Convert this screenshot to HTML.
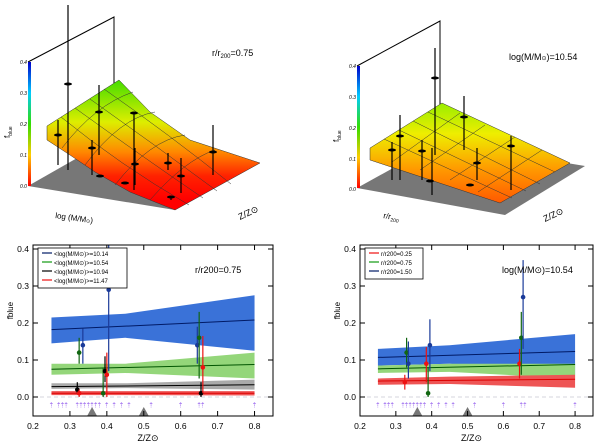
<!DOCTYPE html>
<html><head><meta charset="utf-8">
<style>
body{margin:0;background:#fff;}
svg{display:block;font-family:"Liberation Sans","DejaVu Sans",sans-serif;}
</style></head>
<body>
<svg id="fig" width="600" height="444" viewBox="0 0 600 444" xmlns="http://www.w3.org/2000/svg">
<defs>
<linearGradient id="cbar" x1="0" y1="1" x2="0" y2="0">
<stop offset="0" stop-color="#ff0000"/><stop offset="0.25" stop-color="#ffcc00"/><stop offset="0.5" stop-color="#33dd00"/><stop offset="0.75" stop-color="#00ccff"/><stop offset="1" stop-color="#0000cc"/>
</linearGradient>
<linearGradient id="surfL" x1="0" y1="80" x2="0" y2="200" gradientUnits="userSpaceOnUse">
<stop offset="0" stop-color="#44dd00"/><stop offset="0.35" stop-color="#ddee00"/><stop offset="0.6" stop-color="#ff8800"/><stop offset="0.8" stop-color="#ff2200"/><stop offset="1" stop-color="#ff0000"/>
</linearGradient>
<linearGradient id="surfR" x1="0" y1="103" x2="0" y2="205" gradientUnits="userSpaceOnUse">
<stop offset="0" stop-color="#99ee00"/><stop offset="0.3" stop-color="#eeee00"/><stop offset="0.65" stop-color="#ff9900"/><stop offset="1" stop-color="#ff5500"/>
</linearGradient>
</defs>

<g>
<polygon points="28,186 114,137 260,163 175,210" fill="#777"/>
<polyline points="28,62 114,17 114,140" fill="none" stroke="#000" stroke-width="1"/>
<polygon points="47,126 119,80 150,112 190,140 260,163 175,210 130,192 95,172 70,155 47,140" fill="url(#surfL)" stroke="#333" stroke-width="0.5"/>
<g stroke="#333" stroke-width="0.5" fill="none">
<path d="M61,117 Q120,165 189,205"/><path d="M75,108 Q140,155 203,198"/><path d="M90,99 Q155,145 217,191"/><path d="M104,89 Q170,135 231,184"/><path d="M62,148 Q95,105 133,92"/><path d="M85,165 Q120,118 155,112"/><path d="M115,185 Q150,140 185,135"/><path d="M150,200 Q185,160 215,150"/>
</g>
<rect x="28" y="62" width="3" height="124" fill="url(#cbar)"/>
<g font-size="5" font-style="italic" fill="#000">
<text x="20" y="64">0.4</text><text x="20" y="95">0.3</text><text x="20" y="126">0.2</text><text x="20" y="157">0.1</text><text x="20" y="188">0.0</text>
</g>
<text x="10" y="138" font-size="8" transform="rotate(-90 10 138)">f<tspan font-size="5" dy="2">blue</tspan></text>
<text x="212" y="56" font-size="9">r/r<tspan font-size="6" dy="2">200</tspan><tspan dy="-2">=0.75</tspan></text>
<text x="55" y="218" font-size="8" transform="rotate(8 55 218)">log (M/M<tspan font-size="5">⊙</tspan>)</text>
<text x="240" y="220" font-size="9" transform="rotate(-25 240 220)">Z/Z⊙</text>
<g stroke="#000" stroke-width="1.2" fill="none">
<line x1="68" y1="5" x2="68" y2="170"/><line x1="58" y1="120" x2="58" y2="165"/><line x1="92" y1="140" x2="92" y2="175"/><line x1="99" y1="85" x2="99" y2="155"/><line x1="134" y1="112" x2="134" y2="190"/><line x1="135" y1="148" x2="135" y2="185"/><line x1="213" y1="125" x2="213" y2="175"/><line x1="168" y1="153" x2="168" y2="170"/><line x1="181" y1="158" x2="181" y2="193"/><line x1="171" y1="196" x2="171" y2="200"/>
</g>
<g fill="#000">
<ellipse cx="68" cy="84" rx="4" ry="1.5"/><ellipse cx="58" cy="135" rx="4" ry="1.5"/><ellipse cx="99" cy="112" rx="4" ry="1.5"/><ellipse cx="92" cy="148" rx="4" ry="1.5"/><ellipse cx="134" cy="113" rx="4" ry="1.5"/><ellipse cx="135" cy="164" rx="4" ry="1.5"/><ellipse cx="100" cy="176" rx="4" ry="1.5"/><ellipse cx="125" cy="183" rx="4" ry="1.5"/><ellipse cx="168" cy="163" rx="4" ry="1.5"/><ellipse cx="213" cy="152" rx="4" ry="1.5"/><ellipse cx="181" cy="176" rx="4" ry="1.5"/><ellipse cx="171" cy="197" rx="4" ry="1.5"/>
</g>
</g>

<g>
<polygon points="357,188 440,142 585,166 505,215" fill="#777"/>
<polyline points="357,66 440,21 440,143" fill="none" stroke="#000" stroke-width="1"/>
<polygon points="370,148 442,103 570,163 500,203 370,160" fill="url(#surfR)" stroke="#333" stroke-width="0.5"/>
<g stroke="#333" stroke-width="0.5" fill="none">
<line x1="384" y1="139" x2="512" y2="198"/><line x1="399" y1="130" x2="526" y2="191"/><line x1="413" y1="121" x2="540" y2="184"/><line x1="428" y1="112" x2="555" y2="172"/>
<line x1="392" y1="162" x2="460" y2="113"/><line x1="420" y1="170" x2="485" y2="125"/><line x1="450" y1="180" x2="515" y2="137"/><line x1="478" y1="192" x2="542" y2="150"/>
</g>
<rect x="357" y="66" width="3" height="122" fill="url(#cbar)"/>
<g font-size="5" font-style="italic" fill="#000">
<text x="349" y="68">0.4</text><text x="349" y="99">0.3</text><text x="349" y="130">0.2</text><text x="349" y="161">0.1</text><text x="349" y="191">0.0</text>
</g>
<text x="339" y="142" font-size="8" transform="rotate(-90 339 142)">f<tspan font-size="5" dy="2">blue</tspan></text>
<text x="509" y="60" font-size="9">log(M/M<tspan font-size="6">⊙</tspan>)=10.54</text>
<text x="383" y="218" font-size="8" transform="rotate(10 383 218)">r/r<tspan font-size="5" dy="2">200</tspan></text>
<text x="545" y="222" font-size="9" transform="rotate(-25 545 222)">Z/Z⊙</text>
<g stroke="#000" stroke-width="1.2">
<line x1="435" y1="48" x2="435" y2="155"/><line x1="464" y1="96" x2="464" y2="150"/><line x1="400" y1="115" x2="400" y2="180"/><line x1="392" y1="142" x2="392" y2="180"/><line x1="422" y1="140" x2="422" y2="180"/><line x1="477" y1="148" x2="477" y2="180"/><line x1="511" y1="136" x2="511" y2="190"/><line x1="432" y1="148" x2="432" y2="195"/>
</g>
<g fill="#000">
<ellipse cx="435" cy="78" rx="4" ry="1.5"/><ellipse cx="464" cy="117" rx="4" ry="1.5"/><ellipse cx="400" cy="136" rx="4" ry="1.5"/><ellipse cx="392" cy="150" rx="4" ry="1.5"/><ellipse cx="422" cy="151" rx="4" ry="1.5"/><ellipse cx="477" cy="163" rx="4" ry="1.5"/><ellipse cx="511" cy="146" rx="4" ry="1.5"/><ellipse cx="430" cy="181" rx="4" ry="1.5"/><ellipse cx="470" cy="185" rx="4" ry="1.5"/>
</g>
</g>

<g id="bl"></g>
<g id="br"></g>
</svg>

<script>
const yTicks = [0.0, 0.1, 0.2, 0.3, 0.4];
const xTicks = [0.2, 0.3, 0.4, 0.5, 0.6, 0.7, 0.8];
const arrowZ = [0.25,0.27,0.28,0.29,0.32,0.33,0.34,0.35,0.36,0.37,0.38,0.40,0.42,0.44,0.46,0.52,0.60,0.65,0.66,0.80];
const triZ = [0.36, 0.50];
const bandZ = [0.25, 0.45, 0.8];
const blueLoL = [0.145, 0.16, 0.125], blueHiL = [0.215, 0.225, 0.275], blueLineL = [0.182, 0.208];
const greenLoL = [0.06, 0.065, 0.05], greenHiL = [0.09, 0.09, 0.12], greenLineL = [0.075, 0.088];
const grayLoL = [0.022, 0.024, 0.02], grayHiL = [0.037, 0.037, 0.047], grayLineL = [0.028, 0.033];
const redLoL = [0.005, 0.005, 0.004], redHiL = [0.016, 0.016, 0.016], redLineL = [0.010, 0.010];
const ptZL = [[0.335,0.405,0.645],[0.325,0.39,0.65],[0.32,0.395,0.655],[0.325,0.40,0.66]];
const ptVL = [[0.14,0.29,0.14],[0.12,0.01,0.16],[0.02,0.07,0.01],[0.01,0.06,0.08]];
const ptLoL = [[0.09,0.07,0.09],[0.09,0.0,0.05],[0.01,0.04,0.0],[0.0,0.0,0.01]];
const ptHiL = [[0.185,0.41,0.19],[0.16,0.08,0.23],[0.04,0.11,0.04],[0.02,0.12,0.165]];
const blueLoR = [0.085, 0.09, 0.06], blueHiR = [0.13, 0.14, 0.17], blueLineR = [0.107, 0.123];
const greenLoR = [0.065, 0.068, 0.05], greenHiR = [0.085, 0.09, 0.09], greenLineR = [0.076, 0.088];
const redLoR = [0.033, 0.035, 0.025], redHiR = [0.05, 0.055, 0.06], redLineR = [0.043, 0.048];
const ptZR = [[0.325,0.385,0.645],[0.33,0.39,0.65],[0.335,0.395,0.655]];
const ptVR = [[0.04,0.09,0.09],[0.12,0.01,0.16],[0.09,0.14,0.27]];
const ptLoR = [[0.02,0.04,0.05],[0.08,0.0,0.06],[0.05,0.07,0.13]];
const ptHiR = [[0.06,0.135,0.13],[0.16,0.08,0.23],[0.15,0.21,0.37]];

const NS = 'http://www.w3.org/2000/svg';
function mk(parent, tag, attrs){const e=document.createElementNS(NS,tag);for(const k in attrs)e.setAttribute(k,attrs[k]);parent.appendChild(e);return e;}

function panel(g, x0, x1, bands, lines, pts, legend, label){
  const yT=245, yB=416;
  const X = z => x0 + (z-0.2)/(0.85-0.2)*(x1-x0);
  const Y = v => 397 - v*370;
  const zl = mk(g,'line',{x1:x0,x2:x1,y1:Y(0),y2:Y(0),stroke:'#aab','stroke-width':0.6,'stroke-dasharray':'4,3'});
  
  
  bands.forEach(b=>{
    let d='M'+bandZ.map((z,i)=>X(z)+','+Y(b.hi[i])).join(' L')+' L'+bandZ.slice().reverse().map((z,i)=>X(z)+','+Y(b.lo[2-i])).join(' L')+'Z';
    const p=mk(g,'path',{d:d,fill:b.c});
    
    
  });
  lines.forEach(l=>{
    const ln=mk(g,'line',{x1:X(0.25),x2:X(0.8),y1:Y(l.v[0]),y2:Y(l.v[1]),stroke:l.c,'stroke-width':1});
    
    
  });
  pts.forEach(s=>{
    s.z.forEach((z,i)=>{
      const e=mk(g,'line',{x1:X(z),x2:X(z),y1:Y(Math.min(s.hi[i],0.41)),y2:Y(s.lo[i]),stroke:s.c,'stroke-width':1.2});
      
      
      const c=mk(g,'circle',{cx:X(z),cy:Y(s.v[i]),r:2.3,fill:s.c});
      
      
    });
  });
  arrowZ.forEach(z=>{
    const a=mk(g,'text',{x:X(z),y:Y(-0.028),'font-size':7,fill:'#9966ee','text-anchor':'middle'});
    a.textContent='⇡';
    
    
  });
  triZ.forEach(z=>{
    const t=mk(g,'polygon',{points:`${X(z)-5},${yB} ${X(z)+5},${yB} ${X(z)},${yB-9}`,fill:'#777'});
    
    
  });
  const f = mk(g,'rect',{x:x0,y:yT,width:x1-x0,height:yB-yT,fill:'none',stroke:'#000','stroke-width':1});
  
  
  yTicks.forEach(v=>{
    mk(g,'line',{x1:x0,x2:x0+5,y1:Y(v),y2:Y(v),stroke:'#000'});
    mk(g,'line',{x1:x1,x2:x1-5,y1:Y(v),y2:Y(v),stroke:'#000'});
    const t=mk(g,'text',{x:x0-4,y:Y(v)+3,'font-size':8.5,'text-anchor':'end'});
    t.textContent=v.toFixed(1);
    
    
  });
  xTicks.forEach(v=>{
    mk(g,'line',{x1:X(v),x2:X(v),y1:yB,y2:yB-5,stroke:'#000'});
    mk(g,'line',{x1:X(v),x2:X(v),y1:yT,y2:yT+5,stroke:'#000'});
    const t=mk(g,'text',{x:X(v),y:yB+13,'font-size':8.5,'text-anchor':'middle'});
    t.textContent=v.toFixed(1);
    
    
  });
  const xt=mk(g,'text',{x:(x0+x1)/2-5,y:yB+25,'font-size':9,'text-anchor':'middle'});
  xt.textContent='Z/Z⊙';
  
  
  const yt=mk(g,'text',{x:x0-20,y:Y(0.21),'font-size':8,transform:`rotate(-90 ${x0-20} ${Y(0.21)})`});
  yt.textContent='fblue';
  
  
  const pl=mk(g,'text',{x:label.x,y:Y(0.335),'font-size':9});
  pl.textContent=label.t;
  
  
  const lw=legend.w, lh=legend.items.length*9+4;
  const lb=mk(g,'rect',{x:x0+5,y:yT+3,width:lw,height:lh,fill:'#fff',stroke:'#000','stroke-width':0.8});
  
  
  legend.items.forEach((it,i)=>{
    const yy=yT+10+i*9;
    mk(g,'line',{x1:x0+9,x2:x0+19,y1:yy-2,y2:yy-2,stroke:it.c,'stroke-width':1.2});
    const t=mk(g,'text',{x:x0+21,y:yy+1,'font-size':6});
    t.textContent=it.t;
    
    
  });
}

panel(document.getElementById('bl'), 33, 273,
  [{lo:blueLoL,hi:blueHiL,c:'#3a72d8'},{lo:greenLoL,hi:greenHiL,c:'#94d67a'},{lo:grayLoL,hi:grayHiL,c:'#aaaaaa'},{lo:redLoL,hi:redHiL,c:'#ee5555'}],
  [{v:blueLineL,c:'#001a66'},{v:greenLineL,c:'#005500'},{v:grayLineL,c:'#000'},{v:redLineL,c:'#dd0000'}],
  [{z:ptZL[0],v:ptVL[0],lo:ptLoL[0],hi:ptHiL[0],c:'#1a3a99'},{z:ptZL[1],v:ptVL[1],lo:ptLoL[1],hi:ptHiL[1],c:'#116611'},{z:ptZL[2],v:ptVL[2],lo:ptLoL[2],hi:ptHiL[2],c:'#000'},{z:ptZL[3],v:ptVL[3],lo:ptLoL[3],hi:ptHiL[3],c:'#ee1111'}],
  {w:89,items:[{t:'<log(M/M⊙)>=10.14',c:'#001a66'},{t:'<log(M/M⊙)>=10.54',c:'#119911'},{t:'<log(M/M⊙)>=10.94',c:'#000'},{t:'<log(M/M⊙)>=11.47',c:'#ee1111'}]},
  {x:195,t:'r/r200=0.75'});

panel(document.getElementById('br'), 360, 593,
  [{lo:blueLoR,hi:blueHiR,c:'#3a72d8'},{lo:greenLoR,hi:greenHiR,c:'#94d67a'},{lo:redLoR,hi:redHiR,c:'#ee5555'}],
  [{v:blueLineR,c:'#001a66'},{v:greenLineR,c:'#005500'},{v:redLineR,c:'#dd0000'}],
  [{z:ptZR[0],v:ptVR[0],lo:ptLoR[0],hi:ptHiR[0],c:'#ee1111'},{z:ptZR[1],v:ptVR[1],lo:ptLoR[1],hi:ptHiR[1],c:'#116611'},{z:ptZR[2],v:ptVR[2],lo:ptLoR[2],hi:ptHiR[2],c:'#1a3a99'}],
  {w:58,items:[{t:'r/r200=0.25',c:'#ee1111'},{t:'r/r200=0.75',c:'#119911'},{t:'r/r200=1.50',c:'#001a66'}]},
  {x:502,t:'log(M/M⊙)=10.54'});
</script>
</body></html>
